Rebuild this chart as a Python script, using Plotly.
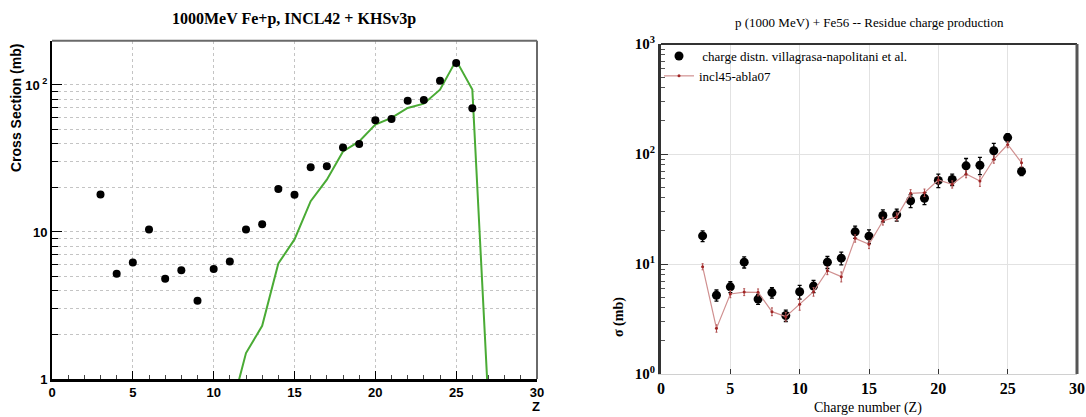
import plotly.graph_objects as go

W, H = 1086, 417

# ---------------- data ----------------
charge_z = [3, 4, 5, 6, 7, 8, 9, 10, 11, 12, 13, 14, 15, 16, 17, 18, 19, 20, 21, 22, 23, 24, 25, 26]
data_xs = [18.0, 5.2, 6.2, 10.4, 4.8, 5.5, 3.4, 5.6, 6.3, 10.4, 11.3, 19.6, 17.9, 27.6, 28.0,
           37.6, 39.6, 57.5, 58.7, 78.0, 79.0, 107.0, 141.0, 69.5]
data_err = [2.0, 0.6, 0.7, 1.2, 0.5, 0.6, 0.4, 0.8, 0.8, 1.3, 1.5, 2.5, 2.5, 3.5, 3.5,
            5.0, 5.0, 8.0, 7.0, 13.0, 14.0, 18.0, 12.0, 6.0]

incl42_z = [11, 12, 13, 14, 15, 16, 17, 18, 19, 20, 21, 22, 23, 24, 25, 26, 27]
incl42_xs = [0.57, 1.5, 2.3, 6.1, 8.9, 16.2, 22.7, 35.3, 41.3, 53.7, 59.7, 69.7, 74.6, 92.9, 147.0, 93.0, 0.65]

incl45_z = [3, 4, 5, 6, 7, 8, 9, 10, 11, 12, 13, 14, 15, 16, 17, 18, 19, 20, 21, 22, 23, 24, 25, 26]
incl45_xs = [9.46, 2.6, 5.34, 5.56, 5.53, 3.69, 3.32, 4.3, 5.6, 8.7, 7.67, 17.1, 15.1, 24.6, 26.9,
             43.9, 44.5, 58.0, 53.0, 65.8, 56.8, 89.5, 122.0, 83.4]
incl45_err = [0.6, 0.2, 0.4, 0.4, 0.4, 0.3, 0.3, 0.5, 0.5, 0.7, 0.8, 1.3, 1.3, 2.0, 2.2,
              3.5, 3.5, 4.5, 4.0, 5.0, 6.0, 7.0, 8.0, 7.0]

left_yticks = [1, 10, 100]
left_yticktext = ["1", "10", "10<sup> 2</sup>"]
right_yticks = [1, 10, 100, 1000]
right_yticktext = ["10<sup>0</sup>", "10<sup>1</sup>", "10<sup>2</sup>", "10<sup>3</sup>"]
x_ticks = [0, 5, 10, 15, 20, 25, 30]

minor_log = [2, 3, 4, 5, 6, 7, 8, 9, 20, 30, 40, 50, 60, 70, 80, 90, 200, 300, 400, 500, 600, 700, 800, 900]


def px(xp):
    return xp / W


def py(yp):
    return 1 - yp / H


# plot area pixel boxes
L = dict(x0=52, x1=537, y0=40.7, y1=379)
R = dict(x0=661, x1=1077, y0=44, y1=374)

fig = go.Figure()

# ---- left panel ----
fig.add_trace(go.Scatter(
    x=incl42_z, y=incl42_xs, mode="lines",
    line=dict(color="#4aab35", width=2),
    xaxis="x", yaxis="y", showlegend=False, hoverinfo="skip"))
fig.add_trace(go.Scatter(
    x=charge_z, y=data_xs, mode="markers",
    marker=dict(color="black", size=8),
    xaxis="x", yaxis="y", showlegend=False))

# ---- right panel ----
fig.add_trace(go.Scatter(
    x=charge_z, y=data_xs, mode="markers",
    name=" charge distn. villagrasa-napolitani et al.",
    marker=dict(color="black", size=9),
    error_y=dict(type="data", array=data_err, color="black", thickness=1.3, width=2),
    xaxis="x2", yaxis="y2"))
fig.add_trace(go.Scatter(
    x=incl45_z, y=incl45_xs, mode="lines+markers",
    name="incl45-abla07",
    line=dict(color="#d09090", width=1.2),
    marker=dict(color="#a02525", size=3),
    error_y=dict(type="data", array=incl45_err, color="#b05050", thickness=1, width=1),
    xaxis="x2", yaxis="y2"))

sans_bold = dict(family="Liberation Sans, Arial, sans-serif", size=13, color="black", weight="bold")

fig.update_layout(
    width=W, height=H,
    margin=dict(l=0, r=0, t=0, b=0),
    paper_bgcolor="white", plot_bgcolor="white",
    showlegend=True,
    legend=dict(x=px(659), y=py(41), xanchor="left", yanchor="top",
                font=dict(family="Liberation Serif, Times New Roman, serif", size=13, color="black"),
                bgcolor="rgba(0,0,0,0)", itemwidth=30, tracegroupgap=0),
    xaxis=dict(domain=[px(L["x0"]), px(L["x1"])], range=[0, 30], automargin=False,
               tickvals=x_ticks, tickfont=sans_bold,
               ticks="inside", ticklen=8, tickcolor="black",
               showgrid=True, gridcolor="#c4c4c4", griddash="dot", gridwidth=1,
               minor=dict(dtick=1, ticks="inside", ticklen=4, tickcolor="#444", showgrid=False),
               showline=True, linecolor="black", linewidth=2.5, zeroline=False,
               anchor="y"),
    yaxis=dict(domain=[py(L["y1"]), py(L["y0"])], type="log", range=[0, 2.30103], automargin=False,
               tickvals=left_yticks, ticktext=left_yticktext, tickfont=sans_bold,
               ticks="inside", ticklen=10, tickcolor="black",
               showgrid=True, gridcolor="#c4c4c4", griddash="dot", gridwidth=1,
               minor=dict(tickmode="array", tickvals=minor_log, ticks="inside", ticklen=6,
                          tickcolor="black", showgrid=True, gridcolor="#c4c4c4", griddash="dot"),
               showline=True, linecolor="black", linewidth=2, zeroline=False,
               anchor="x"),
    xaxis2=dict(domain=[px(R["x0"]), px(R["x1"])], range=[0, 30], automargin=False,
                tickvals=x_ticks,
                tickfont=dict(family="Liberation Serif, Times New Roman, serif", size=16,
                              color="black", weight="bold"),
                ticks="inside", ticklen=5, tickcolor="#333",
                showgrid=True, gridcolor="#e2e2e2", gridwidth=1,
                showline=True, linecolor="#d0d0d0", linewidth=1, zeroline=False,
                anchor="y2"),
    yaxis2=dict(domain=[py(R["y1"]), py(R["y0"])], type="log", range=[0, 3], automargin=False,
                tickvals=right_yticks, ticktext=right_yticktext,
                tickfont=dict(family="Liberation Serif, Times New Roman, serif", size=15,
                              color="black", weight="bold"),
                ticks="inside", ticklen=7, tickcolor="#333",
                showgrid=True, gridcolor="#e2e2e2", gridwidth=1,
                minor=dict(tickmode="array", tickvals=minor_log, ticks="inside", ticklen=4,
                           tickcolor="#555", showgrid=False),
                showline=True, linecolor="#333", linewidth=3, zeroline=False,
                anchor="x2"),
)

shapes = [
    # left panel top and right borders (gray)
    dict(type="line", xref="paper", yref="paper", x0=px(L["x0"]), x1=px(L["x1"]),
         y0=py(L["y0"]), y1=py(L["y0"]), line=dict(color="#6a6a6a", width=2)),
    dict(type="line", xref="paper", yref="paper", x0=px(L["x1"]), x1=px(L["x1"]),
         y0=py(L["y0"]), y1=py(L["y1"]), line=dict(color="#6a6a6a", width=2)),
    # right panel: white band under legend (hides grid), top and right borders
    dict(type="rect", xref="paper", yref="paper", x0=px(R["x0"] + 2), x1=px(R["x1"] - 2),
         y0=py(82), y1=py(R["y0"]), fillcolor="white", line=dict(width=0), layer="between"),
    dict(type="line", xref="paper", yref="paper", x0=px(R["x0"]), x1=px(R["x1"]),
         y0=py(R["y0"]), y1=py(R["y0"]), line=dict(color="#333", width=2)),
    dict(type="line", xref="paper", yref="paper", x0=px(R["x1"]), x1=px(R["x1"]),
         y0=py(R["y0"]), y1=py(R["y1"]), line=dict(color="#555", width=3)),
]
fig.update_layout(shapes=shapes)

annotations = [
    dict(text="<b>1000MeV Fe+p, INCL42 + KHSv3p</b>", x=px(294), y=py(19),
         font=dict(family="Liberation Serif, Times New Roman, serif", size=16, color="black")),
    dict(text="Cross Section (mb)", x=px(16), y=py(42), yanchor="top", textangle=-90,
         font=dict(family="Liberation Sans, Arial, sans-serif", size=14, color="black", weight="bold")),
    dict(text="Z", x=px(536), y=py(406),
         font=dict(family="Liberation Sans, Arial, sans-serif", size=13, color="black", weight="bold")),
    dict(text="p (1000 MeV) + Fe56 -- Residue charge production", x=px(869), y=py(22),
         font=dict(family="Liberation Serif, Times New Roman, serif", size=13, color="black")),
    dict(text="σ (mb)", x=px(619), y=py(317), textangle=-90,
         font=dict(family="Liberation Serif, Times New Roman, serif", size=14, color="black", weight="bold")),
    dict(text="Charge number (Z)", x=px(868), y=py(408),
         font=dict(family="Liberation Serif, Times New Roman, serif", size=14, color="black")),
]
for a in annotations:
    a.setdefault("xref", "paper")
    a.setdefault("yref", "paper")
    a.setdefault("showarrow", False)
    a.setdefault("xanchor", "center")
    a.setdefault("yanchor", "middle")
fig.update_layout(annotations=annotations)

fig.write_html("out.html", config={"displayModeBar": False},
               post_script="document.body.style.margin='0px';document.body.style.overflow='hidden';")
